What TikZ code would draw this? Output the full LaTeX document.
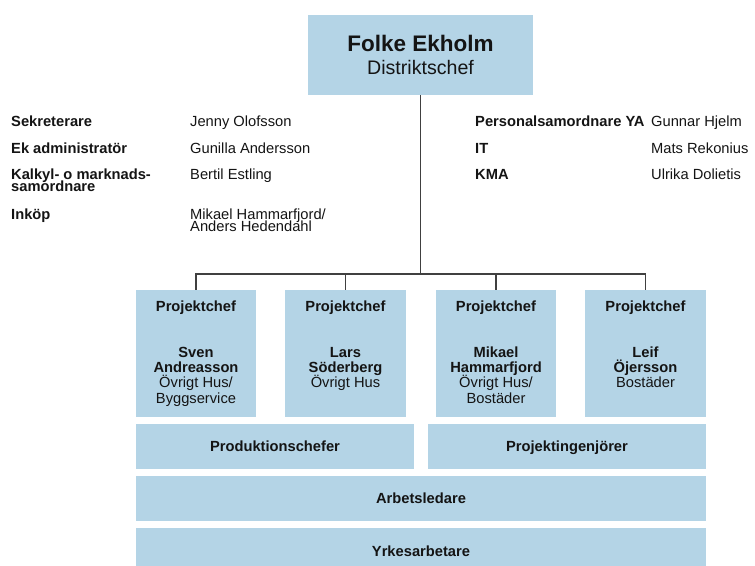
\documentclass[tikz,border=0pt]{standalone}
\usepackage{fontspec}
\setmainfont{Liberation Sans}
\definecolor{boxblue}{RGB}{180,212,230}
\definecolor{linegray}{RGB}{64,64,64}
\definecolor{ink}{RGB}{20,20,20}
% stacked lines with a fixed baseline distance; the box's baseline is that of the first line
\newcommand{\cstack}[2]{\vtop{\baselineskip=#1\lineskiplimit=-\maxdimen\lineskip=0pt\halign{\hfil##\hfil\cr#2\crcr}}}
\newcommand{\lstack}[2]{\vtop{\baselineskip=#1\lineskiplimit=-\maxdimen\lineskip=0pt\halign{##\hfil\cr#2\crcr}}}
\tikzset{
  bluebox/.style={rectangle, fill=boxblue, draw=none, inner sep=0pt},
  barbox/.style={bluebox, text=ink, text height=10.6pt, text depth=0pt, font=\fontsize{14.7}{17}\selectfont\bfseries},
  lbl/.style={anchor=base west, inner sep=0pt, text=ink, font=\fontsize{14.7}{17}\selectfont\bfseries},
  who/.style={anchor=base west, inner sep=0pt, text=ink, font=\fontsize{14.7}{17}\selectfont},
  ptitle/.style={anchor=base, inner sep=0pt, text=ink, font=\fontsize{14.7}{17}\selectfont\bfseries},
  pname/.style={anchor=base, inner sep=0pt, text=ink, font=\fontsize{14.7}{17}\selectfont},
  pbox/.style={bluebox, minimum width=120.5pt, minimum height=127pt},
  orgline/.style={draw=linegray, line width=1.2pt},
}
\begin{document}
\begin{tikzpicture}[x=1pt, y=-1pt]
\useasboundingbox (0,0) rectangle (755,565);
\clip (0,0) rectangle (755,565);

% head of the district
\node[bluebox, minimum width=225pt, minimum height=80pt, text=ink, font=\fontsize{19.6}{23.3}\selectfont]
  (boss) at (420.5,55)
  {\cstack{23.3pt}{{\fontsize{22.5}{23.3}\selectfont\bfseries Folke Ekholm}\cr Distriktschef}};

% staff functions, left column
\node[lbl] (l1) at (11,126.7) {Sekreterare};
\node[lbl] (l2) at (11,153.3) {Ek administratör};
\node[lbl] (l3) at (11,179.3) {\lstack{11.7pt}{Kalkyl- o marknads-\cr samordnare}};
\node[lbl] (l4) at (11,219.3) {Inköp};
\node[who] (n1) at (190,126.7) {Jenny Olofsson};
\node[who] (n2) at (190,153.3) {Gunilla Andersson};
\node[who] (n3) at (190,179.3) {Bertil Estling};
\node[who] (n4) at (190,219.3) {\lstack{11.7pt}{Mikael Hammarfjord/\cr Anders Hedendahl}};

% staff functions, right column
\node[lbl] (r1) at (475,126.7) {Personalsamordnare YA};
\node[lbl] (r2) at (475,153.3) {IT};
\node[lbl] (r3) at (475,179.3) {KMA};
\node[who] (m1) at (651,126.7) {Gunnar Hjelm};
\node[who] (m2) at (651,153.3) {Mats Rekonius};
\node[who] (m3) at (651,179.3) {Ulrika Dolietis};

% project managers
\node[pbox] (p1) at (196,353.5) {};
\node[pbox] (p2) at (345.5,353.5) {};
\node[pbox] (p3) at (496,353.5) {};
\node[pbox] (p4) at (645.5,353.5) {};

\node[ptitle] (p1h) at (196,311.7) {Projektchef};
\node[ptitle] (p2h) at (345.5,311.7) {Projektchef};
\node[ptitle] (p3h) at (496,311.7) {Projektchef};
\node[ptitle] (p4h) at (645.5,311.7) {Projektchef};

\node[pname] (p1n) at (196,357.3) {\cstack{15.3pt}{\bfseries Sven\cr\bfseries Andreasson\cr Övrigt Hus/\cr Byggservice}};
\node[pname] (p2n) at (345.5,357.3) {\cstack{15.3pt}{\bfseries Lars\cr\bfseries Söderberg\cr Övrigt Hus}};
\node[pname] (p3n) at (496,357.3) {\cstack{15.3pt}{\bfseries Mikael\cr\bfseries Hammarfjord\cr Övrigt Hus/\cr Bostäder}};
\node[pname] (p4n) at (645.5,357.3) {\cstack{15.3pt}{\bfseries Leif\cr\bfseries Öjersson\cr Bostäder}};

% staff levels
\node[barbox, minimum width=278pt, minimum height=45pt] (prod) at (275,446.5) {Produktionschefer};
\node[barbox, minimum width=278pt, minimum height=45pt] (ping) at (567,446.5) {Projektingenjörer};
\node[barbox, minimum width=570pt, minimum height=45pt] (arb) at (421,498.5) {Arbetsledare};
\node[barbox, minimum width=570pt, minimum height=47pt] (yrk) at (421,551.5) {Yrkesarbetare};

% reporting lines
\coordinate (hub) at (420.5,274);
\draw[orgline] (boss.south) -- (hub);
\draw[orgline] (p1.north) |- (p4.north |- hub) -- (p4.north);
\draw[orgline] (p2.north) -- (p2.north |- hub);
\draw[orgline] (p3.north) -- (p3.north |- hub);
\end{tikzpicture}
\end{document}
